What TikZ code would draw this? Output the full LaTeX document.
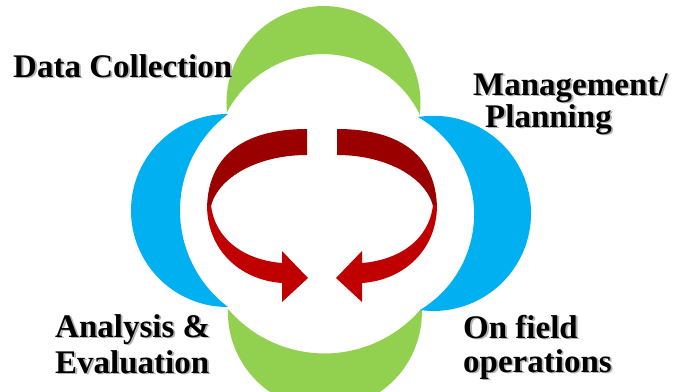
\documentclass[tikz,border=0pt]{standalone}
\usepackage{fontspec}
\setmainfont{Liberation Serif}
\definecolor{cgreen}{RGB}{146,208,80}
\definecolor{cblue}{RGB}{0,176,240}
\definecolor{cdark}{RGB}{154,0,0}
\definecolor{cbright}{RGB}{192,0,0}
\newcommand\shtext[1]{\makebox[0pt][l]{\hspace{1.8pt}\raisebox{-1.8pt}{\color{black!30}#1}}#1}
\tikzset{
  lbl/.style={anchor=base west, inner sep=0pt, font=\fontsize{33}{36}\selectfont\bfseries, text=black},
}
\begin{document}
\begin{tikzpicture}[x=1pt,y=-1pt]
\fill[white] (0,0) rectangle (687,391);
\useasboundingbox (0,0) rectangle (687,391);
% green top
\fill[cgreen] (227,113) arc[start angle=174.1, end angle=367.1, radius=97]
  -- (420,115) arc[start angle=334.15, end angle=207.04, radius=108] -- cycle;
% green bottom
\fill[cgreen] (228,308) arc[start angle=182.4, end angle=-1.8, radius=97]
  -- (421,309) arc[start angle=40.55, end angle=139.5, radius=127] -- cycle;
% blue left
\fill[cblue] (228,114) arc[start angle=270.3, end angle=89.7, radius=96.5]
  -- (228,307) arc[start angle=127.1, end angle=232.9, radius=121] -- cycle;
% blue right
\fill[cblue] (418,117) arc[start angle=260.9, end angle=457.9, radius=97.6]
  -- (420,310) arc[start angle=58.9, end angle=-59.8, radius=112] -- cycle;
% red arrows
\fill[cdark] (307,129) .. controls (242,129) and (207,157) .. (207,210) -- (210,212) .. controls (213,180) and (255,155) .. (307,155) -- cycle;
\fill[cdark] (337,129) .. controls (402,129) and (437,157) .. (437,210) -- (434,212) .. controls (431,180) and (389,155) .. (337,155) -- cycle;
\fill[cbright] (207,205) .. controls (207,250) and (240,280) .. (282,283) -- (282,302) -- (308,278) -- (282,251) -- (282,263) .. controls (245,260) and (215,240) .. (211,205) -- cycle;
\fill[cbright] (437,205) .. controls (437,250) and (404,280) .. (362,283) -- (362,302) -- (336,278) -- (362,251) -- (362,263) .. controls (399,260) and (429,240) .. (433,205) -- cycle;
% labels
\node[lbl] (dc) at (13,77) {\shtext{Data Collection}};
\node[lbl] (mg) at (473,95) {\shtext{Management/}};
\node[lbl] (pl) at (485,127) {\shtext{Planning}};
\node[lbl] (an) at (55,337) {\shtext{Analysis \&}};
\node[lbl] (ev) at (55,373) {\shtext{Evaluation}};
\node[lbl] (of) at (463,338) {\shtext{On field}};
\node[lbl] (op) at (463,372) {\shtext{operations}};
\end{tikzpicture}
\end{document}
